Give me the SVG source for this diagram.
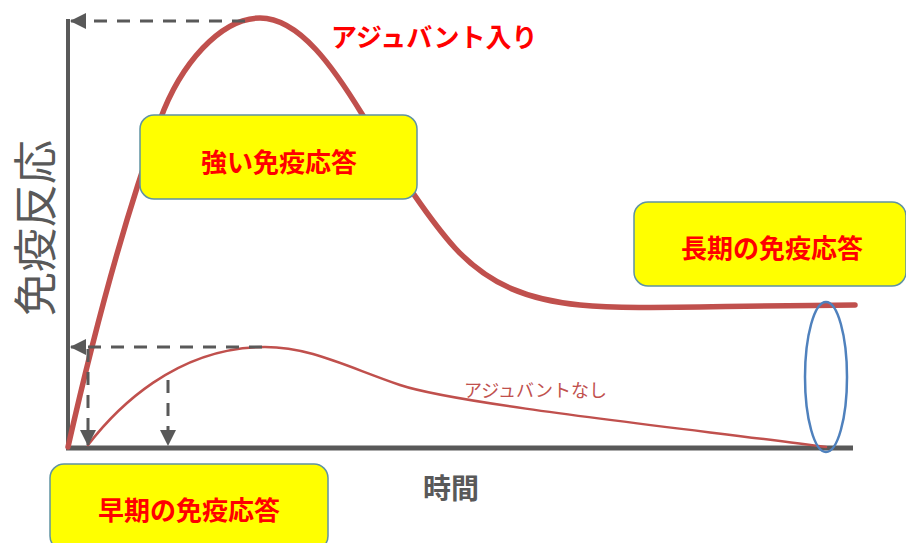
<svg xmlns="http://www.w3.org/2000/svg" width="906" height="543" viewBox="0 0 906 543">
<style>
.box{fill:#ffff00;stroke:#5f93a3;stroke-width:1.5}
.lbl{font-family:"Noto Sans CJK JP","Noto Sans",sans-serif;font-weight:bold;font-size:26px;fill:#ff0000;text-anchor:middle;dominant-baseline:central}
.axis{stroke:#595959;fill:none}
.dash{stroke:#595959;stroke-width:3;stroke-dasharray:13 10;fill:none}
.curve{stroke:#c0504d;fill:none;stroke-linecap:round}
</style>
<defs>
<marker id="ah" viewBox="0 0 16 16" refX="15" refY="8" markerWidth="16" markerHeight="16" markerUnits="userSpaceOnUse" orient="auto">
<path d="M0,0 L16,8 L0,16 Z" fill="#595959"/>
</marker>
</defs>
<rect width="906" height="543" fill="#ffffff"/>
<g id="connectors">
<line class="axis" x1="68" y1="448" x2="68" y2="19" stroke-width="4"/>
<line class="axis" x1="66" y1="448" x2="853" y2="448" stroke-width="5"/>
<path class="curve" stroke-width="5.5" d="M68,447 C90,350 120,230 160,120 C180,65 220,18 260,18 C300,18 335,70 362,114 C389,158 425,215 455,248 C490,286 530,300 580,305 C630,310 700,306 855,305"/>
<path class="curve" stroke-width="2.5" d="M88,445 C115,410 175,347 265,347 C310,347 345,366 400,385 C460,405 700,430 826,447"/>
<path class="dash" d="M245,21 L71,21" marker-end="url(#ah)"/>
<path class="dash" d="M262,347 L71,347" marker-end="url(#ah)"/>
<path class="dash" d="M88,349 L88,445" marker-end="url(#ah)"/>
<path class="dash" d="M168,380 L168,445" marker-end="url(#ah)"/>
<ellipse cx="826" cy="377" rx="21" ry="75" fill="none" stroke="#4f81bd" stroke-width="2.5"/>
</g>
<g id="strong">
<rect class="box" x="140" y="115" width="277" height="84" rx="14"/>
<text class="lbl" x="279" y="160">強い免疫応答</text>
</g>
<g id="longterm">
<rect class="box" x="634" y="202" width="272" height="84" rx="14"/>
<text class="lbl" x="772" y="246">長期の免疫応答</text>
</g>
<g id="early">
<rect class="box" x="50" y="464" width="278" height="86" rx="14"/>
<text class="lbl" x="189" y="508">早期の免疫応答</text>
</g>
<g id="adj-with">
<text x="331" y="35" font-family="'Noto Sans CJK JP','Noto Sans',sans-serif" font-weight="bold" font-size="26" fill="#ff0000" dominant-baseline="central">アジュバント入り</text>
</g>
<g id="adj-without">
<text x="464" y="389" font-family="'Noto Sans CJK JP','Noto Sans',sans-serif" font-size="18" fill="#c0504d" dominant-baseline="central">アジュバントなし</text>
</g>
<g id="xlabel">
<text x="451" y="487" font-family="'Noto Sans CJK JP','Noto Sans',sans-serif" font-weight="bold" font-size="28" fill="#595959" text-anchor="middle" dominant-baseline="central">時間</text>
</g>
<g id="ylabel">
<text transform="translate(33,228) rotate(-90)" x="0" y="0" font-family="'Noto Sans CJK JP','Noto Sans',sans-serif" font-size="44" fill="#595959" text-anchor="middle" dominant-baseline="central">免疫反応</text>
</g>
</svg>
